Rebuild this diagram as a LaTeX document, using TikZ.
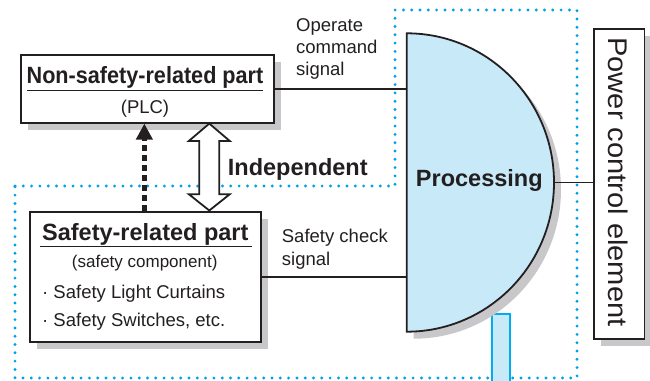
\documentclass[tikz,border=0pt]{standalone}
\usepackage{fontspec}
\setmainfont{Liberation Sans}
\usetikzlibrary{arrows.meta,shadows,calc}
\definecolor{ink}{HTML}{231F20}
\definecolor{dotblue}{HTML}{00A0E9}
\definecolor{edgeblue}{HTML}{00AEEF}
\definecolor{fillblue}{HTML}{C8E9F8}
\definecolor{shade}{HTML}{C8C8CA}
\begin{document}
\begin{tikzpicture}[x=1pt,y=-1pt,
  myshadow/.style={drop shadow={shadow xshift=7pt,shadow yshift=-7pt,fill=shade,opacity=1}},
  box/.style={draw=ink,line width=1.8pt,fill=white,inner sep=0pt,rectangle,myshadow},
  wire/.style={draw=ink,line width=1.8pt},
  zone/.style={draw=dotblue,line width=3.2pt,line cap=round,dash pattern=on 0pt off 8.3pt},
  reg/.style={font=\fontsize{18.5}{21.7}\selectfont,text=ink,inner sep=0pt},
  small/.style={font=\fontsize{17}{20}\selectfont,text=ink,inner sep=0pt},
  bld/.style={font=\fontsize{23.5}{26}\selectfont\bfseries,text=ink,inner sep=0pt},
  uline/.style={draw=ink,line width=1pt},
  hollow/.style={draw=ink,line width=1.8pt,fill=white,line join=miter},
  dashlink/.style={draw=ink,line width=4.5pt,dash pattern=on 6pt off 4pt,-{Triangle[length=16pt,width=16pt]}},
]
\useasboundingbox (0,0) rectangle (650,380);
% dotted zone
\draw[zone] (15,186) -- (395,186) -- (395,10) -- (577,10) -- (577,378) -- (15,378) -- cycle;
% blue stub
\draw[draw=edgeblue,line width=1.8pt,fill=fillblue] (491.7,314.3) rectangle (510,384);
% boxes
\node[box,minimum width=253.3pt,minimum height=67.7pt] (ns) at (147.35,88.85) {};
\node[box,minimum width=230.7pt,minimum height=130pt] (sr) at (145.35,276.7) {};
\node[box,minimum width=50.5pt,minimum height=310pt] (pce) at (619.25,184.3) {};
% processing half disc
\path[draw=ink,line width=1.8pt,fill=fillblue,myshadow] (406.7,33.3) arc[start angle=90,end angle=-90,x radius=147.3pt,y radius=149.2pt] -- cycle;
\coordinate (procL) at (406.7,182.5);
\coordinate (procR) at (554,182.5);
\node[bld,anchor=base] (proc) at (479.3,186.7) {Processing};
% wires
\draw[wire] (ns.east) -- (ns.east -| procL);
\draw[wire] (sr.east) -- (sr.east -| procL);
\draw[wire] (procR) -- (pce.west |- procR);
% independent double arrow
\coordinate (hT) at (209.3,123.6);
\coordinate (hB) at (209.3,210.5);
\draw[hollow] (hT) -- ++(20.5,17.4) -- ++(-10.5,0) -- ($(hB)+(10,-16.3)$) -- ++(10.5,0) -- (hB) -- ++(-20.5,-16.3) -- ++(10.5,0) -- ($(hT)+(-10,17.4)$) -- ++(-10.5,0) -- cycle;
% dashed link
\draw[dashlink] ([xshift=-1pt]sr.north) -- ([xshift=-1pt]sr.north |- ns.south);
% texts
\node[bld,anchor=base] (nst) at (145,83.3) {\scalebox{0.92}[1]{Non-safety-related part}};
\draw[uline] (27,90) -- (263,90);
\node[reg,anchor=base] (plc) at (145,113.3) {(PLC)};
\node[bld,anchor=base west] (ind) at (227.7,175) {Independent};
\node[reg,anchor=base west] (op1) at (296,31.7) {Operate};
\node[reg,anchor=base west] (op2) at (296,53.6) {command};
\node[reg,anchor=base west] (op3) at (296,75.3) {signal};
\node[bld,anchor=base] (srt) at (145.3,240) {Safety-related part};
\draw[uline] (40,246) -- (252,246);
\node[small,anchor=base] (sc) at (144.7,267.3) {(safety component)};
\node[reg,anchor=base west] (it1) at (42,298.3) {· Safety Light Curtains};
\node[reg,anchor=base west] (it2) at (42,326) {· Safety Switches, etc.};
\node[reg,anchor=base west] (sc1) at (281.7,242.7) {Safety check};
\node[reg,anchor=base west] (sc2) at (281.7,265) {signal};
\node[reg,rotate=-90,anchor=base,font=\fontsize{27}{30}\selectfont] (pct) at (608.3,182) {\scalebox{1.077}[1]{Power control element}};
\end{tikzpicture}
\end{document}
